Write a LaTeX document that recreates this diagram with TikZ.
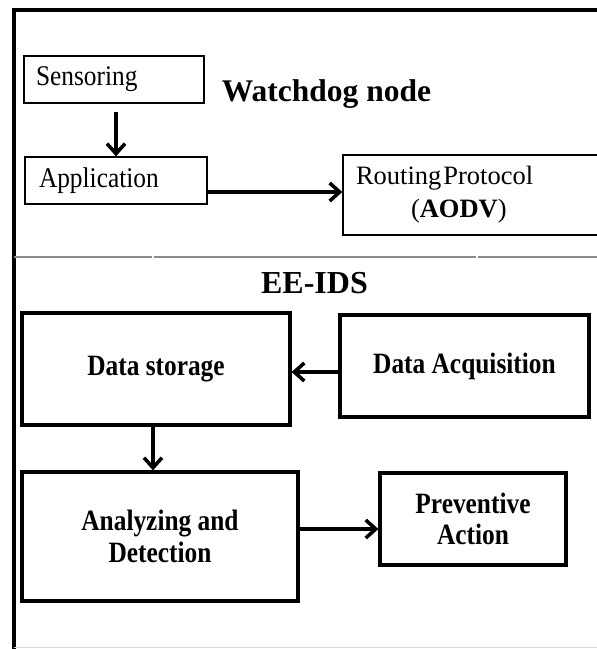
\documentclass[tikz,border=0pt]{standalone}
\usepackage{fontspec}
\setmainfont{Liberation Serif}
% narrowed serif faces for the box labels
\newfontfamily\boxserif[FakeStretch=0.86]{Liberation Serif}
\newfontfamily\plainserif[FakeStretch=0.89]{Liberation Serif}
\usetikzlibrary{arrows.meta}

\tikzset{
  thinbox/.style={draw, line width=1.3pt, inner ysep=0pt, align=left,
    font=\plainserif\fontsize{28.5}{33}\selectfont},
  thickbox/.style={draw, line width=3.2pt, inner sep=0pt, align=center,
    font=\boxserif\fontsize{29.5}{31.5}\selectfont\bfseries},
  heading/.style={anchor=base, inner sep=0pt},
  arr/.style={line width=3.6pt, -{Straight Barb[length=10pt,width=18pt,line width=3.6pt]}},
  frame/.style={line width=3.5pt},
  divider/.style={line width=1.8pt, black!45},
}

\begin{document}
\begin{tikzpicture}[x=1pt, y=-1pt]
  \path[use as bounding box, clip] (0,0) rectangle (597,649);

  % outer frame (open on the right and bottom)
  \draw[frame] (14,651) -- (14,10) -- (605,10);
  \draw[line width=1.5pt, black!15] (14,647.5) -- (597,647.5);

  % section divider
  \draw[divider] (14,257) -- (152,257);
  \draw[divider] (154,257) -- (476,257);
  \draw[divider] (478,257) -- (597,257);

  % watchdog node part
  \node[thinbox, minimum width=180pt, minimum height=47pt, inner xsep=12pt,
        text width=156pt] (sens) at (114,79.5) {Sensoring};
  \node[thinbox, minimum width=182pt, minimum height=47pt, inner xsep=14pt,
        text width=154pt] (app) at (116,180.5) {Application};
  \node[thinbox, minimum width=277pt, minimum height=80pt, inner xsep=13pt,
        text width=251pt, font=\fontsize{26.5}{33}\selectfont] (rout) at (481.5,195)
        {Routing\hspace{2pt}Protocol\\\hspace*{55pt}(\textbf{AODV})};
  \node[heading, font=\fontsize{31.5}{36}\selectfont\bfseries] (wd) at (326.5,101) {Watchdog node};

  \draw[arr, shorten <=8pt] (sens.south -| app.north) -- (app.north);
  \draw[arr] ([yshift=-11.5pt]app.east) -- ([yshift=-11.5pt]app.east -| rout.west);

  % EE-IDS part
  \node[heading, font=\fontsize{32}{36}\selectfont\bfseries] (ids) at (314.5,293) {EE-IDS};

  \node[thickbox, minimum width=268pt, minimum height=112pt] (ds) at (156,369) {Data storage};
  \node[thickbox, minimum width=249pt, minimum height=102pt] (da) at (464.5,366) {Data Acquisition};
  \node[thickbox, minimum width=276pt, minimum height=129pt] (ana) at (160,536.5) {Analyzing and\\Detection};
  \node[thickbox, minimum width=186pt, minimum height=92pt] (prev) at (473,519) {Preventive\\Action};

  \draw[arr] ([yshift=-6pt]da.west) -- ([yshift=-6pt]da.west -| ds.east);
  \draw[arr] ([xshift=-3pt]ds.south) -- ([xshift=-3pt]ds.south |- ana.north);
  \draw[arr] ([yshift=7.5pt]ana.east) -- ([yshift=7.5pt]ana.east -| prev.west);
\end{tikzpicture}
\end{document}
